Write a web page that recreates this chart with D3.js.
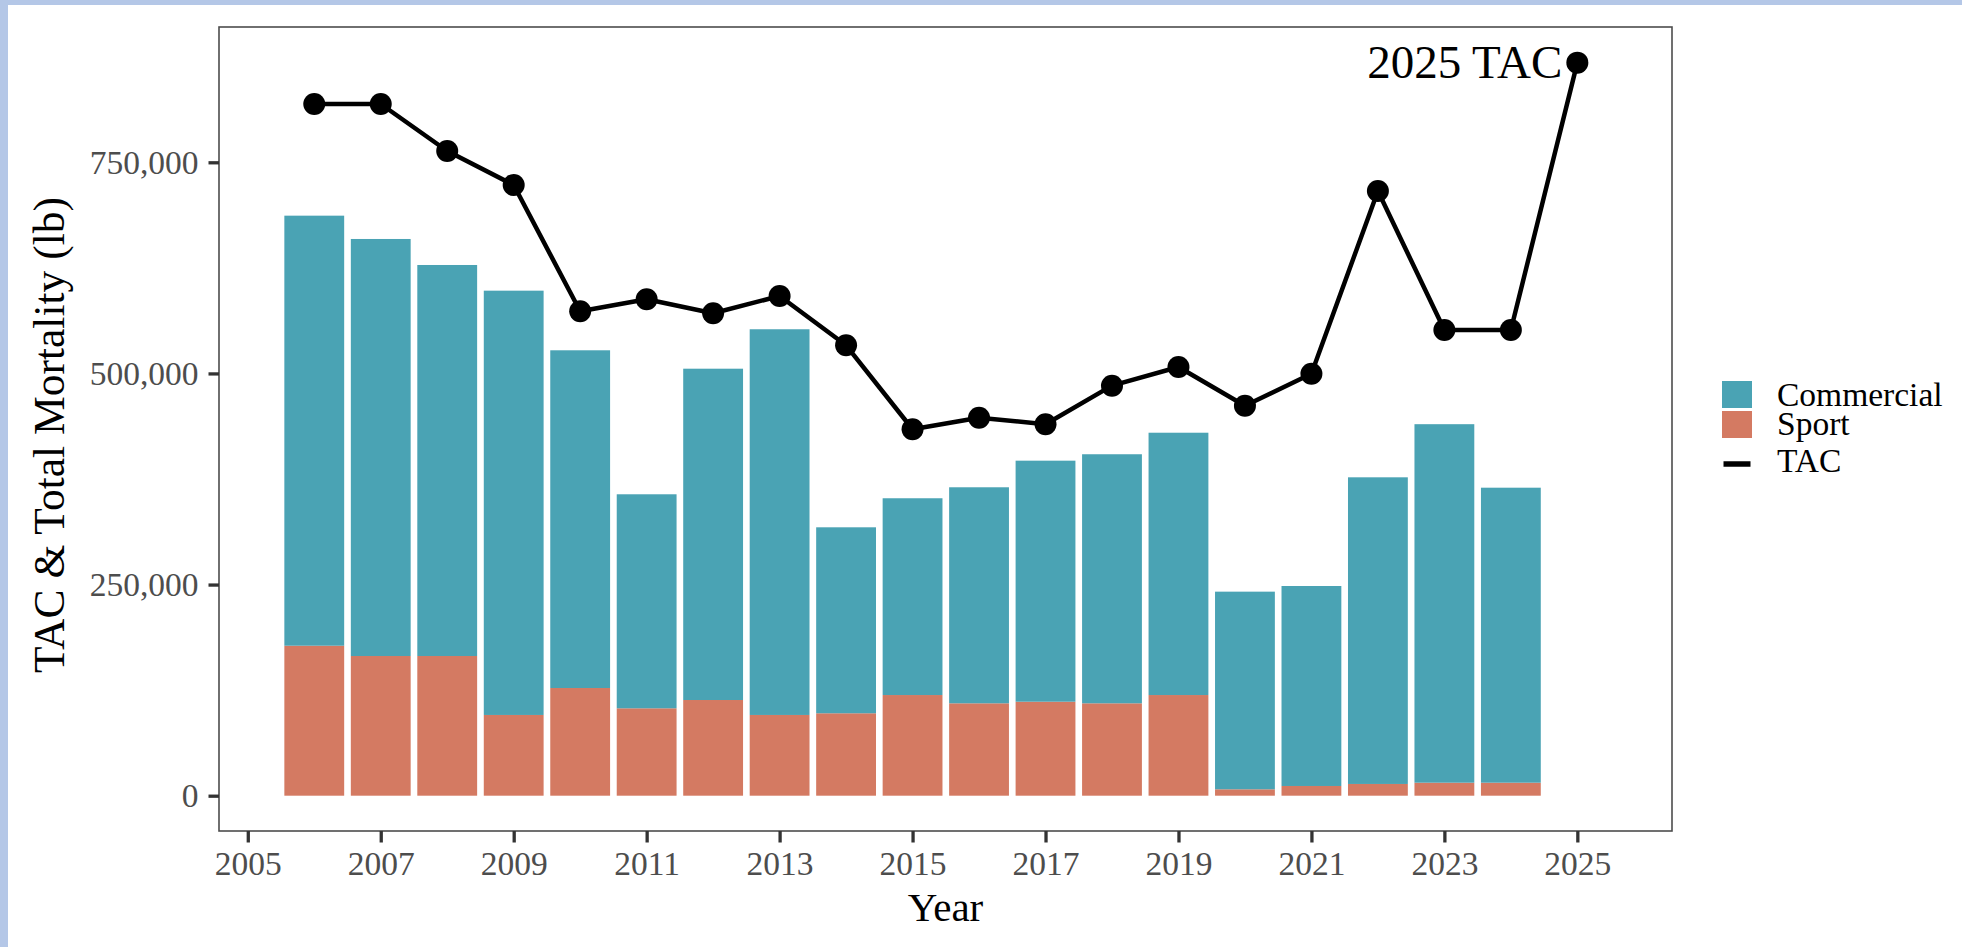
<!DOCTYPE html>
<html>
<head>
<meta charset="utf-8">
<script src="https://cdn.jsdelivr.net/npm/d3@7"></script>
<style>
  html, body { margin: 0; padding: 0; background: #ffffff; }
  svg { display: block; }
</style>
</head>
<body>
<svg id="chart" width="1962" height="947"></svg>
<script>
// ---- data ----
const years      = [2006,2007,2008,2009,2010,2011,2012,2013,2014,2015,2016,2017,2018,2019,2020,2021,2022,2023,2024];
const sport      = [177600,165400,165400,95600,127500,103500,113300,95600,97600,119200,109400,111300,109400,119200,7600,11500,13900,15400,15400];
const commercial = [509200,493800,463000,502400,399900,253400,392300,456700,220200,233000,255800,285400,294900,310600,234000,236800,363100,424500,349300];
const tacYears   = [2006,2007,2008,2009,2010,2011,2012,2013,2014,2015,2016,2017,2018,2019,2020,2021,2022,2023,2024,2025];
const tac        = [819000,819000,763400,723100,573600,587800,571200,591700,533300,433900,447600,439800,485500,507600,461800,499700,716000,551400,551400,868000];
const xTicks     = [2005,2007,2009,2011,2013,2015,2017,2019,2021,2023,2025];
const yTicks     = [0,250000,500000,750000];
const seriesKeys = ["Sport","Commercial"];
const legendLabels = ["Commercial","Sport","TAC"];
const annotation = "2025 TAC";

// ---- styles ----
const colors = {Commercial: "#4aa3b4", Sport: "#d47a62"};
const font = "'Liberation Serif', 'Times New Roman', serif";

const svg = d3.select("#chart");

// page frame (light blue strips top & left)
svg.append("rect").attr("x",0).attr("y",0).attr("width",1962).attr("height",947).attr("fill","#ffffff");
svg.append("rect").attr("x",0).attr("y",0).attr("width",1962).attr("height",5).attr("fill","#b4c7e7");
svg.append("rect").attr("x",0).attr("y",0).attr("width",8).attr("height",947).attr("fill","#b4c7e7");

const panel = {left: 219, right: 1672, top: 27, bottom: 831};

const x = d3.scaleLinear().domain([2004.567, 2026.424]).range([panel.left, panel.right]);
const y = d3.scaleLinear().domain([-41800, 910200]).range([panel.bottom, panel.top]);

const table = years.map((yr, i) => ({year: yr, Sport: sport[i], Commercial: commercial[i]}));
const stacked = d3.stack().keys(seriesKeys)(table);

const barW = x(2006.45) - x(2005.55);

// bars
const gBars = svg.append("g");
stacked.forEach(layer => {
  gBars.selectAll(null).data(layer).enter().append("rect")
    .attr("x", d => x(d.data.year) - barW/2)
    .attr("width", barW)
    .attr("y", d => y(d[1]))
    .attr("height", d => y(d[0]) - y(d[1]))
    .attr("fill", colors[layer.key]);
});

// TAC line
const tacData = tacYears.map((yr, i) => ({year: yr, v: tac[i]}));
svg.append("path")
  .datum(tacData)
  .attr("fill","none")
  .attr("stroke","#000")
  .attr("stroke-width",4.5)
  .attr("stroke-linejoin","round")
  .attr("d", d3.line().x(d => x(d.year)).y(d => y(d.v)));
svg.selectAll(null).data(tacData).enter().append("circle")
  .attr("cx", d => x(d.year)).attr("cy", d => y(d.v)).attr("r", 11).attr("fill","#000");

// annotation
const last = tacData[tacData.length-1];
svg.append("text")
  .attr("x", x(last.year) - 15)
  .attr("y", y(last.v) + 15)
  .attr("text-anchor","end")
  .attr("font-family", font)
  .attr("font-size", 47)
  .attr("fill","#000")
  .text(annotation);

// panel border
svg.append("rect")
  .attr("x", panel.left).attr("y", panel.top)
  .attr("width", panel.right - panel.left).attr("height", panel.bottom - panel.top)
  .attr("fill","none").attr("stroke","#4d4d4d").attr("stroke-width",1.6);

// axes
const xAxis = svg.append("g").attr("transform", `translate(0,${panel.bottom})`)
  .call(d3.axisBottom(x).tickValues(xTicks).tickFormat(d3.format("d")).tickSize(11.5).tickPadding(0));
xAxis.select(".domain").remove();
xAxis.selectAll(".tick line").attr("stroke","#333333").attr("stroke-width",3.3);
xAxis.selectAll(".tick text").attr("y",20.5).attr("font-family",font).attr("font-size",33.5).attr("fill","#4d4d4d");

const yAxis = svg.append("g").attr("transform", `translate(${panel.left},0)`)
  .call(d3.axisLeft(y).tickValues(yTicks).tickFormat(d3.format(",")).tickSize(10.5).tickPadding(10));
yAxis.select(".domain").remove();
yAxis.selectAll(".tick line").attr("stroke","#333333").attr("stroke-width",3.3);
yAxis.selectAll(".tick text").attr("font-family",font).attr("font-size",33.5).attr("fill","#4d4d4d");

// axis titles
svg.append("text")
  .attr("x", (panel.left + panel.right)/2).attr("y", 921)
  .attr("text-anchor","middle").attr("font-family",font).attr("font-size",41).attr("fill","#000")
  .text("Year");
svg.append("text")
  .attr("transform", `translate(64,435) rotate(-90)`)
  .attr("text-anchor","middle").attr("font-family",font).attr("font-size",43.5).attr("fill","#000")
  .text("TAC & Total Mortality (lb)");

// legend
const lg = svg.append("g");
const keyX = 1722, keyW = 30, textX = 1777;
lg.append("rect").attr("x",keyX).attr("y",381).attr("width",keyW).attr("height",27).attr("fill",colors.Commercial);
lg.append("rect").attr("x",keyX).attr("y",411).attr("width",keyW).attr("height",27).attr("fill",colors.Sport);
lg.append("line").attr("x1",keyX+1.5).attr("x2",keyX+keyW-1.5).attr("y1",464).attr("y2",464).attr("stroke","#000").attr("stroke-width",5.5);
const lgY = [406, 434.5, 472];
legendLabels.forEach((t, i) => {
  lg.append("text").attr("x",textX).attr("y",lgY[i])
    .attr("font-family",font).attr("font-size",33.5).attr("fill","#000").text(t);
});
</script>
</body>
</html>
